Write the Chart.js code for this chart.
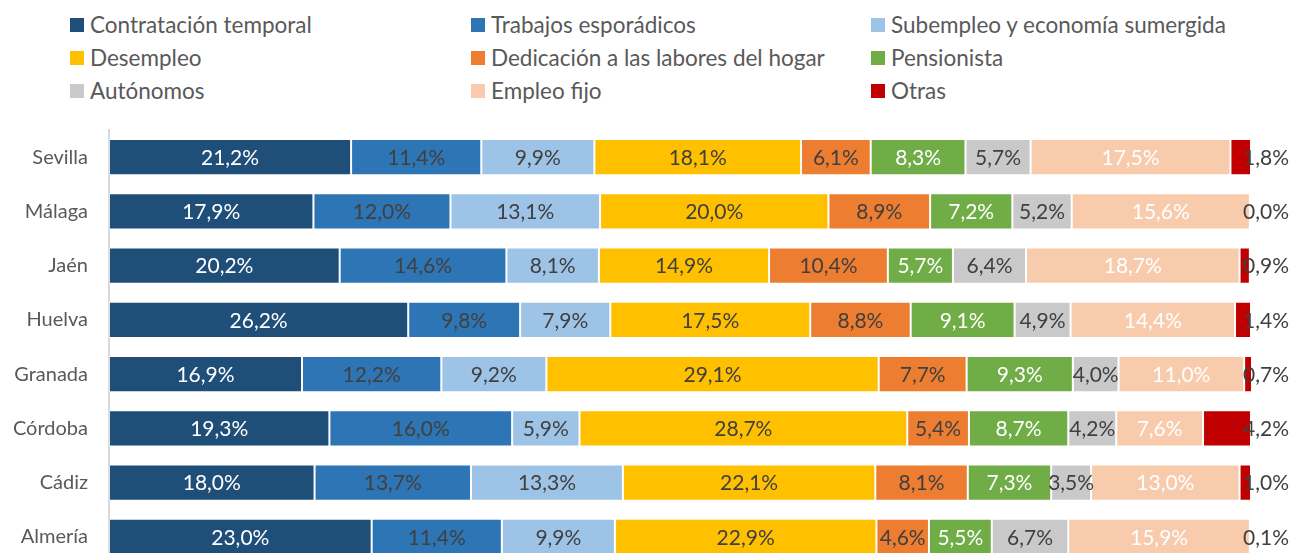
<!DOCTYPE html>
<html>
<head>
<meta charset="utf-8">
<script src="https://cdn.jsdelivr.net/npm/chart.js@4"></script>
<style>
  html, body { margin: 0; padding: 0; background: #fff; overflow: hidden; }
  body { width: 1291px; height: 553px; position: relative; font-family: Lato, "Open Sans", sans-serif; }
  #legend { position: absolute; left: 70px; top: 8px; display: grid; grid-template-columns: 401px 400px 400px; grid-auto-rows: 33px; }
  .item { display: flex; align-items: center; color: #595959; font-size: 22.5px; white-space: nowrap; }
  .box { width: 14px; height: 14px; margin-right: 6px; flex: none; }
  #wrap { position: absolute; left: 0; top: 0; width: 1291px; height: 600px; }
</style>
</head>
<body>
<div id="legend"></div>
<div id="wrap"><canvas id="chart" width="1291" height="600"></canvas></div>
<script>
// Datos
const provincias = ['Sevilla', 'Málaga', 'Jaén', 'Huelva', 'Granada', 'Córdoba', 'Cádiz', 'Almería'];
const series = ['Contratación temporal', 'Trabajos esporádicos', 'Subempleo y economía sumergida',
  'Desempleo', 'Dedicación a las labores del hogar', 'Pensionista', 'Autónomos', 'Empleo fijo', 'Otras'];

const contratacionTemporal = [21.2, 17.9, 20.2, 26.2, 16.9, 19.3, 18.0, 23.0];
const trabajosEsporadicos  = [11.4, 12.0, 14.6, 9.8, 12.2, 16.0, 13.7, 11.4];
const subempleo            = [9.9, 13.1, 8.1, 7.9, 9.2, 5.9, 13.3, 9.9];
const desempleo            = [18.1, 20.0, 14.9, 17.5, 29.1, 28.7, 22.1, 22.9];
const laboresHogar         = [6.1, 8.9, 10.4, 8.8, 7.7, 5.4, 8.1, 4.6];
const pensionista          = [8.3, 7.2, 5.7, 9.1, 9.3, 8.7, 7.3, 5.5];
const autonomos            = [5.7, 5.2, 6.4, 4.9, 4.0, 4.2, 3.5, 6.7];
const empleoFijo           = [17.5, 15.6, 18.7, 14.4, 11.0, 7.6, 13.0, 15.9];
const otras                = [1.8, 0.0, 0.9, 1.4, 0.7, 4.2, 1.0, 0.1];

const valores = [contratacionTemporal, trabajosEsporadicos, subempleo, desempleo,
  laboresHogar, pensionista, autonomos, empleoFijo, otras];

// Estilos
const colores = ['#1F4E79', '#2E75B6', '#9DC3E6', '#FFC000', '#ED7D31', '#70AD47', '#C9C9C9', '#F8CBAD', '#C00000'];
const coloresTexto = ['#FFFFFF', '#404040', '#404040', '#404040', '#404040', '#FFFFFF', '#404040', '#FFFFFF', '#404040'];
const FUENTE = 'Lato, "Open Sans", sans-serif';

// Leyenda en HTML (3 columnas)
const legendEl = document.getElementById('legend');
series.forEach((nombre, i) => {
  const item = document.createElement('div');
  item.className = 'item';
  item.innerHTML = '<span class="box" style="background:' + colores[i] + '"></span>' + nombre;
  legendEl.appendChild(item);
});

const fmt = v => v.toFixed(1).replace('.', ',') + '%';

// Etiquetas de valores dentro de las barras ("Otras" va al final de la barra)
const etiquetas = {
  id: 'etiquetas',
  afterDatasetsDraw(chart) {
    const ctx = chart.ctx;
    ctx.save();
    ctx.font = '21px ' + FUENTE;
    ctx.textBaseline = 'middle';
    chart.data.datasets.forEach((ds, i) => {
      const meta = chart.getDatasetMeta(i);
      meta.data.forEach((bar, j) => {
        const v = ds.data[j];
        ctx.fillStyle = coloresTexto[i];
        if (i === series.length - 1) {
          ctx.textAlign = 'left';
          ctx.fillText(fmt(v), chart.chartArea.right - 8, bar.y + 1);
        } else {
          ctx.textAlign = 'center';
          ctx.fillText(fmt(v), (bar.x + bar.base) / 2, bar.y + 1);
        }
      });
    });
    ctx.restore();
  }
};

new Chart(document.getElementById('chart').getContext('2d'), {
  type: 'bar',
  data: {
    labels: provincias,
    datasets: series.map((nombre, i) => ({
      label: nombre,
      data: valores[i],
      backgroundColor: colores[i],
      borderColor: 'rgba(255,255,255,0.25)',
      borderWidth: 1,
      borderSkipped: false,
      categoryPercentage: 1,
      barPercentage: 0.664
    }))
  },
  options: {
    indexAxis: 'y',
    responsive: false,
    animation: false,
    layout: { padding: { top: 130, right: 40, bottom: 36, left: 0 } },
    plugins: { legend: { display: false }, tooltip: { enabled: false } },
    scales: {
      x: { stacked: true, display: false, min: 0, max: 100 },
      y: {
        stacked: true,
        afterFit: s => { s.width = 109; },
        grid: { display: false, drawTicks: false },
        border: { display: true, color: '#D9D9D9', width: 2 },
        ticks: { color: '#595959', padding: 21, font: { family: FUENTE, size: 20 } }
      }
    }
  },
  plugins: [etiquetas]
});
</script>
</body>
</html>
